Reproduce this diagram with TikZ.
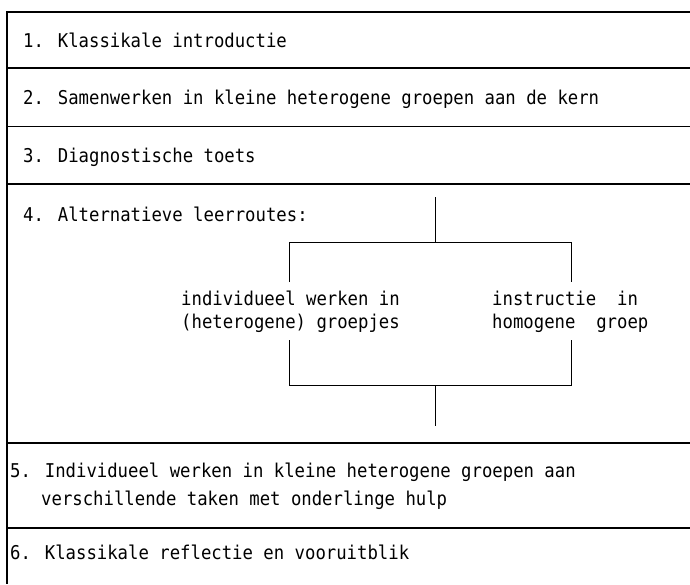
\documentclass[tikz,border=0pt]{standalone}
\usepackage{fontspec}
\newfontfamily\tw[FakeStretch=0.91]{DejaVu Sans Mono}
\begin{document}
\begin{tikzpicture}[x=1pt,y=-1pt,
  every node/.style={inner sep=0pt, anchor=base west, font=\tw\fontsize{19}{21}\selectfont},
  rule/.style={line width=1.2pt},
  fork/.style={line width=1pt}]
\useasboundingbox (0,0) rectangle (690,584);
% frame coordinates
\coordinate (b0) at (7,12);
\coordinate (bz) at (7,584);
\coordinate (r0) at (690,12);
\coordinate (l1) at (7,68);    \coordinate (r1) at (690,68);
\coordinate (l2) at (7,126.5); \coordinate (r2) at (690,126.5);
\coordinate (l3) at (7,184);   \coordinate (r3) at (690,184);
\coordinate (l4) at (7,443);   \coordinate (r4) at (690,443);
\coordinate (l5) at (7,528);   \coordinate (r5) at (690,528);
\draw[rule] (r0) -- (b0) -- (bz);
\draw[rule] (l1) -- (r1);
\draw[rule] (l2) -- (r2);
\draw[rule] (l3) -- (r3);
\draw[rule] (l4) -- (r4);
\draw[rule] (l5) -- (r5);
% texts
\node (t1) at (23,47) {1. Klassikale introductie};
\node (t2) at (23,104) {2. Samenwerken in kleine heterogene groepen aan de kern};
\node (t3) at (23,162) {3. Diagnostische toets};
\node (t4) at (23,221) {4. Alternatieve leerroutes:};
\node (a1) at (181,305) {individueel werken in};
\node (a2) at (181,328) {(heterogene) groepjes};
\node (b1) at (492,305) {instructie\ \ in};
\node (b2) at (492,328) {homogene\ \ groep};
\node (t5a) at (10,477) {5. Individueel werken in kleine heterogene groepen aan};
\node (t5b) at (41,505) {verschillende taken met onderlinge hulp};
\node (t6) at (10,559) {6. Klassikale reflectie en vooruitblik};
% fork
\coordinate (ct) at (435,197);
\coordinate (cj) at (435,242);
\coordinate (lt) at (289,242);
\coordinate (rt) at (571,242);
\coordinate (lte) at (289,282);
\coordinate (rte) at (571,282);
\coordinate (lbs) at (289,340);
\coordinate (rbs) at (571,340);
\coordinate (lb) at (289,385);
\coordinate (rb) at (571,385);
\coordinate (cb) at (435,385);
\coordinate (ce) at (435,426);
\draw[fork] (ct) -- (cj);
\draw[fork] (lte) -- (lt) -- (rt) -- (rte);
\draw[fork] (lbs) -- (lb) -- (rb) -- (rbs);
\draw[fork] (cb) -- (ce);
\end{tikzpicture}
\end{document}
